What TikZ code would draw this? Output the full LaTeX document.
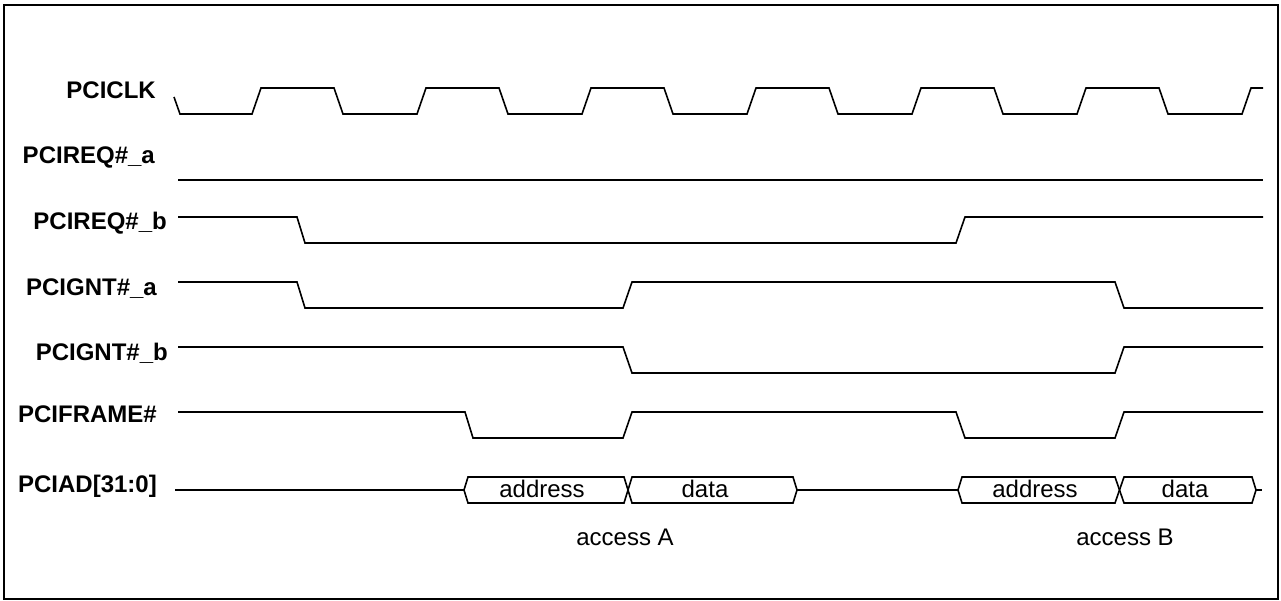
\documentclass[tikz,border=0pt]{standalone}
\usepackage{fontspec}
\setmainfont{Liberation Sans}
\begin{document}
\begin{tikzpicture}[x=1pt,y=-1pt,
  wave/.style={line width=1.6pt,line join=miter},
  sig/.style={font=\fontsize{24}{28}\selectfont\bfseries,anchor=base east,inner sep=0pt},
  bustext/.style={font=\fontsize{24}{28}\selectfont,anchor=base,inner sep=0pt}]
\useasboundingbox (0,0) rectangle (1281,601);
\draw[line width=2pt] (4,5) rectangle (1278,599);
% labels
\node[sig] (lclk) at (156,99) {PCICLK};
\node[sig] (lreqa) at (155,164) {PCIREQ\#\_a};
\node[sig] (lreqb) at (167,230) {PCIREQ\#\_b};
\node[sig] (lgnta) at (157,295) {PCIGNT\#\_a};
\node[sig] (lgntb) at (168,360) {PCIGNT\#\_b};
\node[sig] (lframe) at (157,422) {PCIFRAME\#};
\node[sig] (lad) at (157,492) {PCIAD[31:0]};
% clock
\draw[wave] (174,97) -- (180,114) -- (252,114) -- (261,88) -- (334,88) -- (343,114)
  -- (417,114) -- (426,88) -- (499,88) -- (508,114) -- (582,114) -- (591,88)
  -- (664,88) -- (673,114) -- (747,114) -- (756,88) -- (829,88) -- (838,114)
  -- (912,114) -- (921,88) -- (994,88) -- (1003,114) -- (1077,114) -- (1086,88)
  -- (1159,88) -- (1168,114) -- (1242,114) -- (1251,88) -- (1263,88);
% PCIREQ#_a
\draw[wave] (178,180) -- (1263,180);
% PCIREQ#_b
\draw[wave] (178,217) -- (297,217) -- (305,243) -- (956,243) -- (965,217) -- (1263,217);
% PCIGNT#_a
\draw[wave] (178,282) -- (297,282) -- (305,308) -- (623,308) -- (632,282) -- (1115,282) -- (1124,308) -- (1263,308);
% PCIGNT#_b
\draw[wave] (178,347) -- (623,347) -- (632,373) -- (1115,373) -- (1124,347) -- (1263,347);
% PCIFRAME#
\draw[wave] (178,412) -- (465,412) -- (473,438) -- (623,438) -- (632,412) -- (956,412) -- (965,438) -- (1115,438) -- (1124,412) -- (1263,412);
% PCIAD bus
\draw[wave] (175,490) -- (464,490);
\draw[wave] (464,490) -- (468,477) -- (624,477) -- (628,490) -- (624,503) -- (468,503) -- cycle;
\draw[wave] (628,490) -- (632,477) -- (793,477) -- (797,490) -- (793,503) -- (632,503) -- cycle;
\draw[wave] (797,490) -- (958,490);
\draw[wave] (958,490) -- (962,477) -- (1115,477) -- (1119.5,490) -- (1115,503) -- (962,503) -- cycle;
\draw[wave] (1119.5,490) -- (1124,477) -- (1252,477) -- (1256,490) -- (1252,503) -- (1124,503) -- cycle;
\draw[wave] (1256,490) -- (1262,490);
\node[bustext] (adA) at (542,497) {address};
\node[bustext] (daA) at (705,497) {data};
\node[bustext] (adB) at (1035,497) {address};
\node[bustext] (daB) at (1185,497) {data};
\node[bustext] (accA) at (625,545) {access A};
\node[bustext] (accB) at (1125,545) {access B};
\end{tikzpicture}
\end{document}
